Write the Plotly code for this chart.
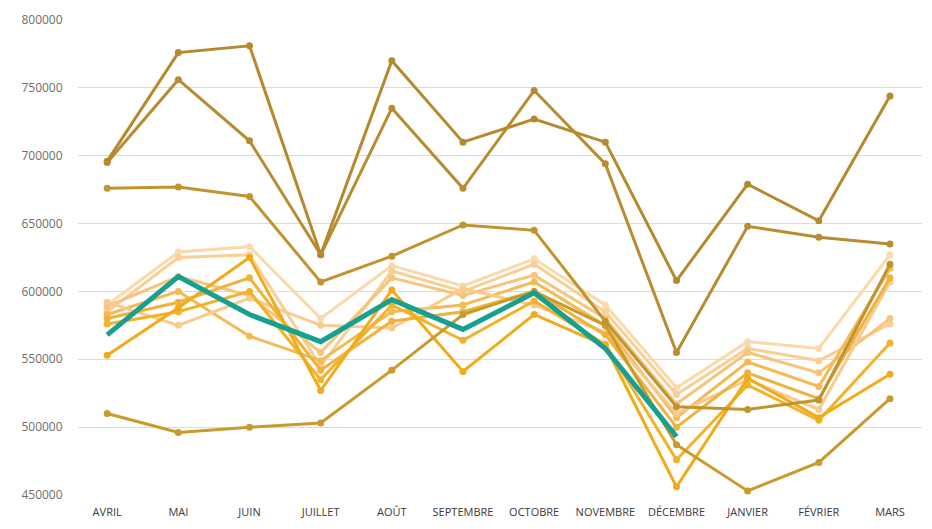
import plotly.graph_objects as go

months = ["AVRIL", "MAI", "JUIN", "JUILLET", "AOÛT", "SEPTEMBRE", "OCTOBRE",
          "NOVEMBRE", "DÉCEMBRE", "JANVIER", "FÉVRIER", "MARS"]

# lower cluster (light to saturated yellow/orange)
s_l1 = [590000, 629000, 633000, 580000, 619000, 604000, 624000, 590000, 529000, 563000, 558000, 627000]
s_l2 = [585000, 625000, 627000, 545000, 615000, 600000, 620000, 585000, 524000, 558000, 549000, 576000]
s_l3 = [589000, 611000, 597000, 555000, 610000, 597000, 612000, 580000, 517000, 555000, 540000, 580000]
s_l4 = [583000, 600000, 567000, 549000, 585000, 590000, 607000, 575000, 507000, 548000, 530000, 617000]
s_l5 = [580000, 592000, 610000, 542000, 578000, 585000, 600000, 568000, 500000, 540000, 521000, 610000]
s_l6 = [553000, 588000, 625000, 527000, 601000, 541000, 583000, 560000, 456000, 536000, 507000, 539000]
s_l7 = [576000, 585000, 600000, 535000, 590000, 564000, 593000, 561000, 476000, 531000, 505000, 562000]
s_l8 = [592000, 575000, 595000, 575000, 573000, 602000, 590000, 570000, 510000, 535000, 513000, 607000]

# darker gold series
s_a = [696000, 776000, 781000, 627000, 770000, 710000, 727000, 710000, 608000, 679000, 652000, 744000]
s_b = [695000, 756000, 711000, 627000, 735000, 676000, 748000, 694000, 555000, 648000, 640000, 635000]
s_c = [676000, 677000, 670000, 607000, 626000, 649000, 645000, 578000, 515000, 513000, 520000, 620000]
s_d = [510000, 496000, 500000, 503000, 542000, 583000, 600000, 575000, 487000, 453000, 474000, 521000]

# highlighted current year (ends in December)
s_cur = [568000, 611000, 583000, 563000, 594000, 572000, 599000, 558000, 493000]

lower = [
    (s_l1, "#FAD9AA"), (s_l2, "#F8CF95"), (s_l3, "#F6C47A"), (s_l4, "#F3BA55"),
    (s_l8, "#F7CB8E"), (s_l5, "#EFB23C"), (s_l7, "#F2B22A"), (s_l6, "#EFAC18"),
]
dark = [(s_d, "#C99A2C"), (s_c, "#C29430"), (s_b, "#B88C30"), (s_a, "#B5892E")]

fig = go.Figure()
for vals, col in lower + dark:
    fig.add_trace(go.Scatter(
        x=months, y=vals, mode="lines+markers",
        line=dict(color=col, width=3),
        marker=dict(color=col, size=7),
        showlegend=False, hoverinfo="skip"))

fig.add_trace(go.Scatter(
    x=months[:len(s_cur)], y=s_cur, mode="lines",
    line=dict(color="#17A08F", width=5),
    showlegend=False))

fig.update_layout(
    width=932, height=529,
    margin=dict(l=78, r=10, t=20, b=31),
    paper_bgcolor="white", plot_bgcolor="white",
    font=dict(family="Open Sans", color="#555555"),
    xaxis=dict(
        type="category", range=[-0.41, 11.45],
        showgrid=False, showline=False, zeroline=False,
        tickfont=dict(size=11, color="#3A3A3A", family="Open Sans"),
        ticks="outside", ticklen=7, tickcolor="rgba(0,0,0,0)",
    ),
    yaxis=dict(
        range=[450000, 800000], dtick=50000, tickformat="d",
        showgrid=True, gridcolor="#DCDCDC", gridwidth=1,
        zeroline=False, showline=False,
        tickfont=dict(size=12, color="#6E6E6E", family="Open Sans"),
        ticks="outside", ticklen=12, tickcolor="rgba(0,0,0,0)",
    ),
)

fig.write_html("out.html")
